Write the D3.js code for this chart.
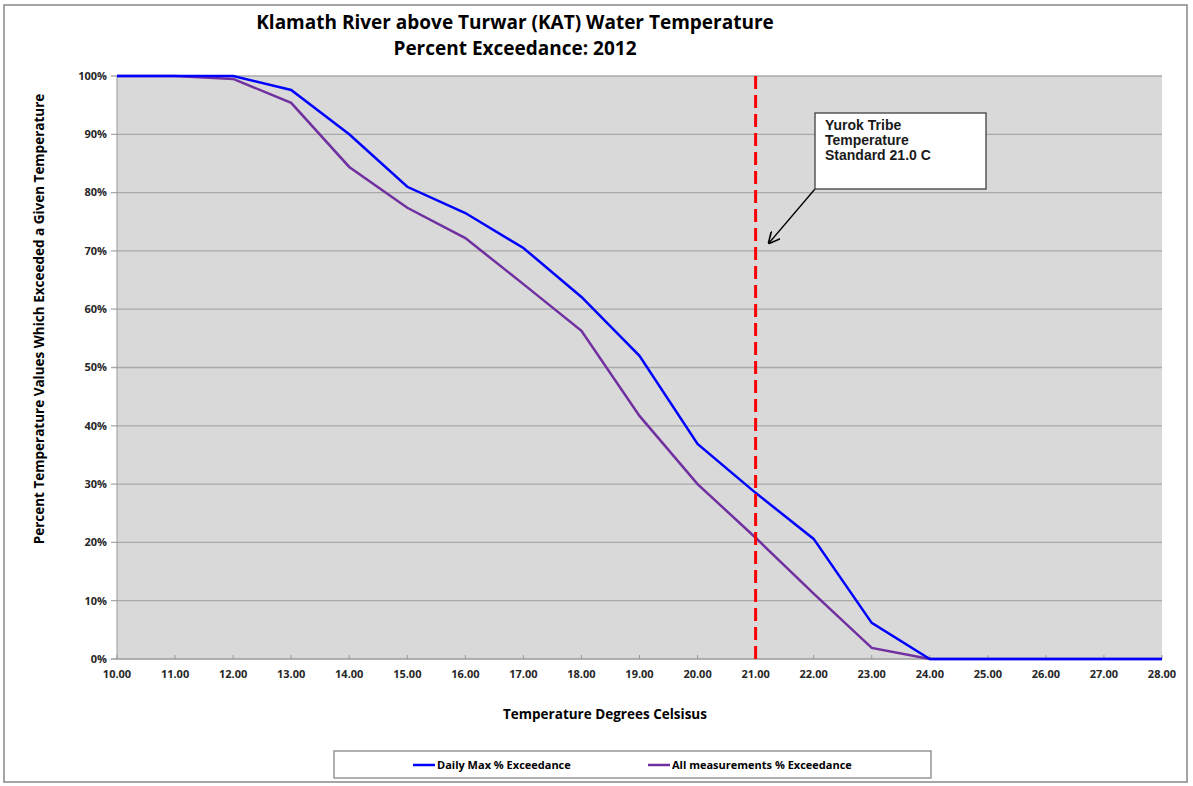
<!DOCTYPE html>
<html>
<head>
<meta charset="utf-8">
<script src="https://cdn.jsdelivr.net/npm/d3@7"></script>
<style>
  body { margin: 0; background: #fff; }
  text { font-family: "Open Sans", "Liberation Sans", sans-serif; }
  text.callout { font-family: "Liberation Sans", Arial, sans-serif; }
</style>
</head>
<body>
<svg id="chart" width="1193" height="786"></svg>
<script>
// temperature bins (deg C)
var temps = [10, 11, 12, 13, 14, 15, 16, 17, 18, 19, 20, 21, 22, 23, 24, 25, 26, 27, 28]
// percent exceedance, daily max
var dailyMax = [100, 100, 100, 97.6, 90.0, 81.0, 76.5, 70.5, 62.1, 52.0, 36.9, 28.5, 20.6, 6.2, 0, 0, 0, 0, 0]
// percent exceedance, all measurements
var allMeas = [100, 100, 99.5, 95.4, 84.4, 77.4, 72.2, 64.3, 56.3, 41.7, 30.0, 20.8, 11.2, 1.9, 0, 0, 0, 0, 0]
var yTicks = [0, 10, 20, 30, 40, 50, 60, 70, 80, 90, 100]
var standard = 21.0

var seriesNames = ["Daily Max % Exceedance", "All measurements % Exceedance"]
var seriesColors = ["#0000ff", "#7030a0"]

var svg = d3.select("#chart")

var margin = { left: 117, right: 1162, top: 76, bottom: 659 }

var x = d3.scaleLinear().domain([10, 28]).range([margin.left, margin.right])
var y = d3.scaleLinear().domain([0, 100]).range([margin.bottom, margin.top])

// outer frame
svg.append("rect")
    .attr("x", 4).attr("y", 5)
    .attr("width", 1183).attr("height", 777)
    .attr("fill", "#fff")
    .attr("stroke", "#868686")
    .attr("stroke-width", 1.5)

// plot background
svg.append("rect")
    .attr("x", margin.left).attr("y", margin.top)
    .attr("width", margin.right - margin.left)
    .attr("height", margin.bottom - margin.top)
    .attr("fill", "#d9d9d9")

// gridlines
svg.append("g")
    .selectAll("line")
    .data(yTicks)
    .enter()
    .append("line")
    .attr("x1", margin.left - 6)
    .attr("x2", margin.right)
    .attr("y1", (d) => y(d))
    .attr("y2", (d) => y(d))
    .attr("stroke", (d) => d === 0 ? "#9a9a9a" : "#a9a9a9")
    .attr("stroke-width", 1.3)

// y axis line
svg.append("line")
    .attr("x1", margin.left).attr("x2", margin.left)
    .attr("y1", margin.top).attr("y2", margin.bottom)
    .attr("stroke", "#9a9a9a")

// x tick marks
svg.append("g")
    .selectAll("line")
    .data(temps)
    .enter()
    .append("line")
    .attr("x1", (d) => x(d)).attr("x2", (d) => x(d))
    .attr("y1", margin.bottom - 4).attr("y2", margin.bottom)
    .attr("stroke", "#9a9a9a")

// y tick labels
svg.append("g")
    .selectAll("text")
    .data(yTicks)
    .enter()
    .append("text")
    .attr("x", margin.left - 10)
    .attr("y", (d) => y(d))
    .attr("dy", "0.35em")
    .attr("text-anchor", "end")
    .attr("font-size", 11)
    .attr("font-weight", "bold")
    .attr("fill", "#262626")
    .text((d) => d + "%")

// x tick labels
svg.append("g")
    .selectAll("text")
    .data(temps)
    .enter()
    .append("text")
    .attr("x", (d) => x(d))
    .attr("y", margin.bottom + 19)
    .attr("text-anchor", "middle")
    .attr("font-size", 11)
    .attr("font-weight", "bold")
    .attr("fill", "#262626")
    .text((d) => d.toFixed(2))

// series lines
var line = d3.line()
    .x((d, i) => x(temps[i]))
    .y((d) => y(d))

svg.append("path")
    .datum(allMeas)
    .attr("d", line)
    .attr("fill", "none")
    .attr("stroke", seriesColors[1])
    .attr("stroke-width", 2.5)

svg.append("path")
    .datum(dailyMax)
    .attr("d", line)
    .attr("fill", "none")
    .attr("stroke", seriesColors[0])
    .attr("stroke-width", 2.5)

// standard line
svg.append("line")
    .attr("x1", x(standard)).attr("x2", x(standard))
    .attr("y1", margin.top).attr("y2", margin.bottom)
    .attr("stroke", "#ff0000")
    .attr("stroke-width", 3)
    .attr("stroke-dasharray", "13,6")

// callout
svg.append("defs").append("marker")
    .attr("id", "arrow")
    .attr("viewBox", "0 0 10 10")
    .attr("refX", 9).attr("refY", 5)
    .attr("markerWidth", 9).attr("markerHeight", 9)
    .attr("orient", "auto")
    .append("path")
    .attr("d", "M0,0 L10,5 L0,10")
    .attr("fill", "none")
    .attr("stroke", "#000")
    .attr("stroke-width", 1.4)

svg.append("line")
    .attr("x1", 815).attr("y1", 189)
    .attr("x2", 769).attr("y2", 243)
    .attr("stroke", "#000")
    .attr("stroke-width", 1.3)
    .attr("marker-end", "url(#arrow)")

svg.append("rect")
    .attr("x", 815).attr("y", 113)
    .attr("width", 171).attr("height", 76)
    .attr("fill", "#fff")
    .attr("stroke", "#404040")
    .attr("stroke-width", 1.3)

var callout = ["Yurok Tribe", "Temperature", "Standard 21.0 C"]
svg.append("g")
    .selectAll("text")
    .data(callout)
    .enter()
    .append("text")
    .attr("class", "callout")
    .attr("x", 825)
    .attr("y", (d, i) => 130 + i * 15)
    .attr("font-size", 14)
    .attr("font-weight", "bold")
    .attr("fill", "#1a1a1a")
    .text((d) => d)

// titles
svg.append("text")
    .attr("x", 515).attr("y", 29)
    .attr("text-anchor", "middle")
    .attr("font-size", 19)
    .attr("font-weight", "bold")
    .attr("fill", "#000")
    .text("Klamath River above Turwar (KAT) Water Temperature")

svg.append("text")
    .attr("x", 515).attr("y", 55)
    .attr("text-anchor", "middle")
    .attr("font-size", 19)
    .attr("font-weight", "bold")
    .attr("fill", "#000")
    .text("Percent Exceedance: 2012")

svg.append("text")
    .attr("transform", "translate(44,319) rotate(-90)")
    .attr("text-anchor", "middle")
    .attr("font-size", 13.5)
    .attr("font-weight", "bold")
    .attr("fill", "#000")
    .text("Percent Temperature Values Which Exceeded a Given Temperature")

svg.append("text")
    .attr("x", 605).attr("y", 719)
    .attr("text-anchor", "middle")
    .attr("font-size", 13.5)
    .attr("font-weight", "bold")
    .attr("fill", "#000")
    .text("Temperature Degrees Celsisus")

// legend
svg.append("rect")
    .attr("x", 334).attr("y", 751)
    .attr("width", 597).attr("height", 27)
    .attr("fill", "#fff")
    .attr("stroke", "#868686")
    .attr("stroke-width", 1.3)

var legendX = [413, 648]
var legendItems = svg.append("g")
    .selectAll("g")
    .data(seriesNames)
    .enter()
    .append("g")
    .attr("transform", (d, i) => "translate(" + legendX[i] + ",765)")

legendItems.append("line")
    .attr("x1", 0).attr("x2", 22)
    .attr("stroke", (d, i) => seriesColors[i])
    .attr("stroke-width", 2.5)

legendItems.append("text")
    .attr("x", 24)
    .attr("dy", "0.35em")
    .attr("font-size", 11)
    .attr("font-weight", "bold")
    .attr("fill", "#000")
    .text((d) => d)
</script>
</body>
</html>
